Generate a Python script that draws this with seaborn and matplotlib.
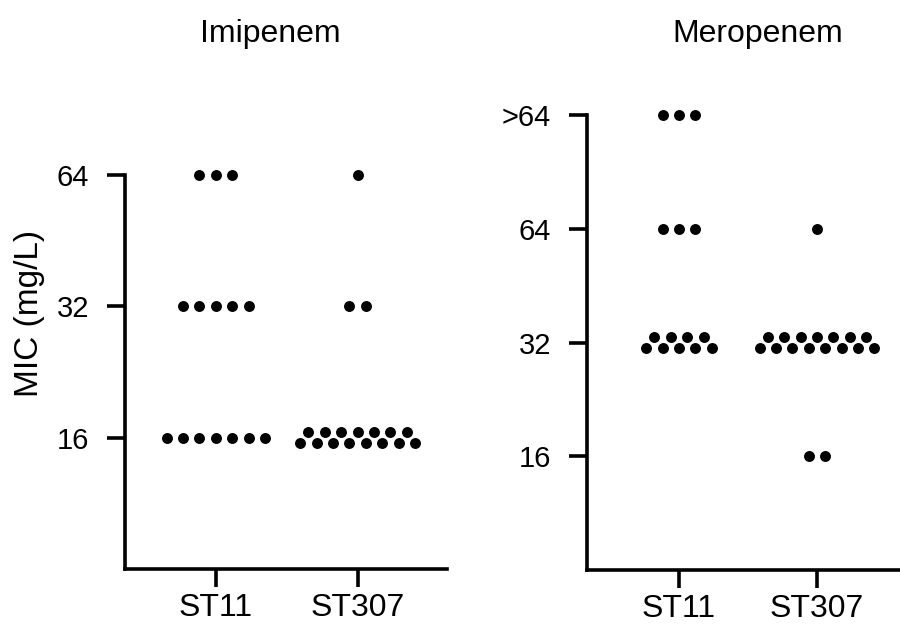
import numpy as np
import pandas as pd
import matplotlib
matplotlib.use("Agg")
import matplotlib.pyplot as plt
import seaborn as sns

# ---------------- data ----------------
strains = ["ST11", "ST307"]

imi_levels = [16, 32, 64]
imi_st11_counts = [7, 5, 3]
imi_st307_counts = [15, 2, 1]

mero_levels = [16, 32, 64, 128]          # 128 stands for ">64"
mero_st11_counts = [0, 9, 3, 3]
mero_st307_counts = [2, 15, 1, 0]

imi_ticks = [16, 32, 64]
imi_ticklabels = ["16", "32", "64"]
mero_ticks = [16, 32, 64, 128]
mero_ticklabels = ["16", "32", "64", ">64"]

titles = ["Imipenem", "Meropenem"]
ylabel = "MIC (mg/L)"


def long_table(levels, counts_by_strain):
    rows = []
    for s, counts in zip(strains, counts_by_strain):
        for lv, n in zip(levels, counts):
            rows += [(s, lv)] * n
    return pd.DataFrame(rows, columns=["strain", "mic"])


imi_df = long_table(imi_levels, [imi_st11_counts, imi_st307_counts])
mero_df = long_table(mero_levels, [mero_st11_counts, mero_st307_counts])

# ---------------- style ----------------
sns.set_theme(style="ticks")
plt.rcParams["font.family"] = ["Liberation Sans", "DejaVu Sans"]
plt.rcParams["text.color"] = "black"

fig = plt.figure(figsize=(9, 6.25), dpi=100)
W, H = 900, 625
ax1 = fig.add_axes([125 / W, (H - 569) / H, 322 / W, (569 - 175) / H])
ax2 = fig.add_axes([587 / W, (H - 570) / H, 322 / W, (570 - 115) / H])

LW = 2.6


def style_axis(ax, ylim, xlim, ticks, ticklabels):
    ax.set_yscale("log", base=2)
    ax.set_ylim(*ylim)
    ax.set_xlim(*xlim)
    ax.set_xticks(range(len(strains)))
    ax.set_xticklabels(strains)
    ax.set_yticks(ticks)
    ax.set_yticklabels(ticklabels)
    ax.yaxis.set_minor_locator(matplotlib.ticker.NullLocator())
    for sp in ["top", "right"]:
        ax.spines[sp].set_visible(False)
    for sp in ["left", "bottom"]:
        ax.spines[sp].set_linewidth(LW)
        ax.spines[sp].set_color("black")
    ax.tick_params(axis="both", length=13, width=LW, color="black",
                   labelcolor="black")
    ax.tick_params(axis="y", labelsize=21, pad=13)
    ax.tick_params(axis="x", labelsize=23, pad=4)
    ax.set_xlabel("")
    ax.set_ylabel("")
    ax.set_facecolor("white")


style_axis(ax1, (8, 64), (-0.64, 1.63), imi_ticks, imi_ticklabels)
style_axis(ax2, (8, 128), (-0.667, 1.667), mero_ticks, mero_ticklabels)

DX = 16.4   # px horizontal spacing of dots
DY = 5.3    # px half vertical offset between the two rows


def dot_positions(ax, df):
    xs, ys = [], []
    inv = ax.transData.inverted()
    for (s, lv), grp in df.groupby(["strain", "mic"]):
        n = len(grp)
        cx, cy = ax.transData.transform((strains.index(s), lv))
        if n <= 7:
            rows = [(n, 0.0)]
        else:
            rows = [(n // 2, DY), (n - n // 2, -DY)]
        for k, dy in rows:
            offs = (np.arange(k) - (k - 1) / 2) * DX
            for o in offs:
                x, y = inv.transform((cx + o, cy + dy))
                xs.append(x)
                ys.append(y)
    return pd.DataFrame({"x": xs, "y": ys})


for ax, df in [(ax1, imi_df), (ax2, mero_df)]:
    pos = dot_positions(ax, df)
    sns.scatterplot(data=pos, x="x", y="y", ax=ax, color="black", s=62,
                    linewidth=0, legend=False, clip_on=False, zorder=3)
    ax.set_xlabel("")
    ax.set_ylabel("")

fig.text(270 / W, (H - 42) / H, titles[0], ha="center", va="baseline",
         fontsize=23)
fig.text(758 / W, (H - 42) / H, titles[1], ha="center", va="baseline",
         fontsize=23)
fig.text(30 / W, (H - 313) / H, ylabel, rotation=90, ha="center",
         va="center", fontsize=24)

fig.savefig("out.png", dpi=100, facecolor="white")
